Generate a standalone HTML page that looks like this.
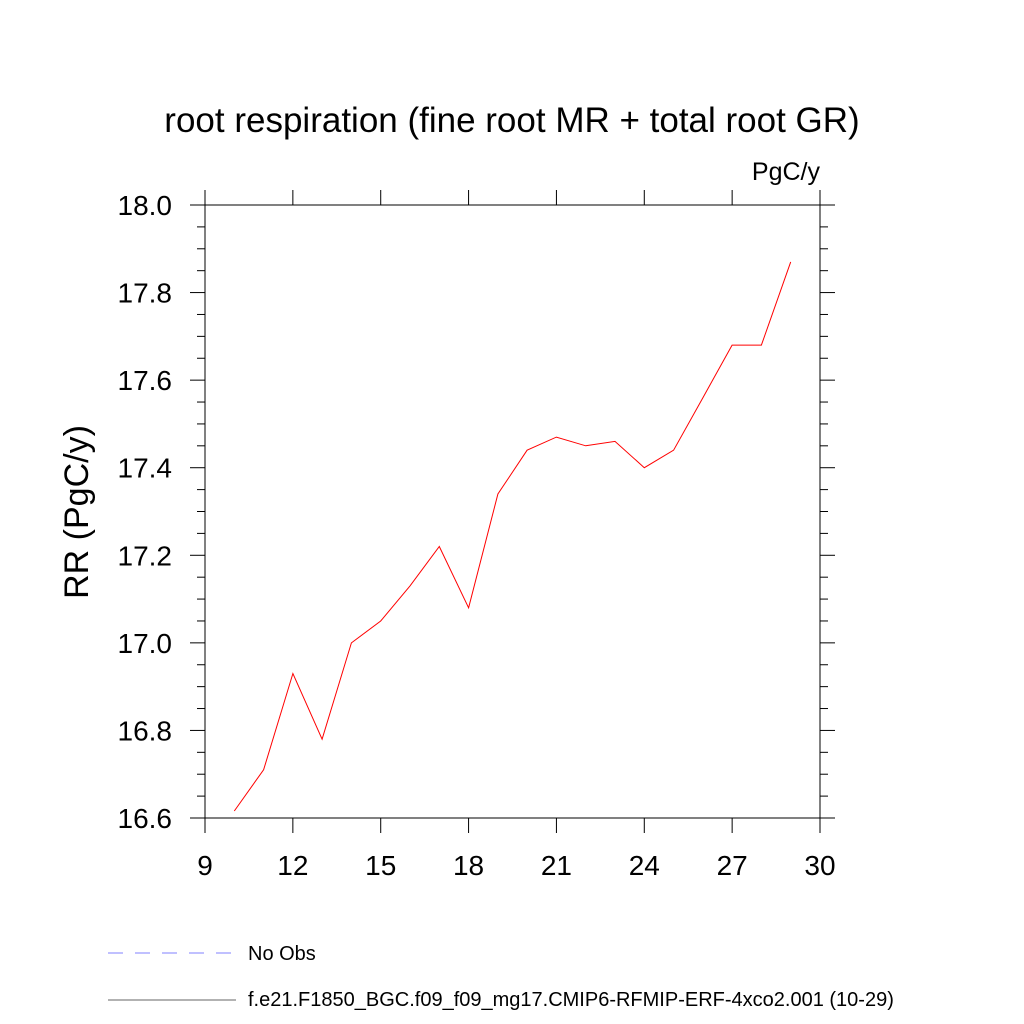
<!DOCTYPE html>
<html><head><meta charset="utf-8"><style>
html,body{margin:0;padding:0;background:#fff;}
svg{display:block;font-family:"Liberation Sans",sans-serif;}
</style></head><body>
<svg id="chart" width="1024" height="1024" viewBox="0 0 1024 1024" xmlns="http://www.w3.org/2000/svg">
<text x="512" y="132" font-size="35" text-anchor="middle">root respiration (fine root MR + total root GR)</text>
<text x="820" y="180" font-size="25" text-anchor="end">PgC/y</text>
<text transform="translate(88,512) rotate(-90)" font-size="34" text-anchor="middle">RR  (PgC/y)</text>
<g id="axes"></g>
<rect x="205" y="205" width="615" height="613" fill="none" stroke="#000" stroke-width="1"/>
<polyline id="series" fill="none" stroke="#ff0000" stroke-width="1"/>
<line x1="108" y1="953" x2="236" y2="953" stroke="#8080ff" stroke-width="1" stroke-dasharray="15,12"/>
<text x="248" y="960" font-size="20">No Obs</text>
<line x1="108" y1="1000" x2="236" y2="1000" stroke="#666" stroke-width="1"/>
<text x="248" y="1006" font-size="20">f.e21.F1850_BGC.f09_f09_mg17.CMIP6-RFMIP-ERF-4xco2.001 (10-29)</text>
</svg>
<script>
const years = [10,11,12,13,14,15,16,17,18,19,20,21,22,23,24,25,26,27,28,29];
const rrValues = [16.616,16.71,16.93,16.78,17.0,17.05,17.13,17.22,17.08,17.34,17.44,17.47,17.45,17.46,17.40,17.44,17.56,17.68,17.68,17.87];
const xTickLabels = [9,12,15,18,21,24,27,30];
const yTickLabels = ["16.6","16.8","17.0","17.2","17.4","17.6","17.8","18.0"];

const X0=205,X1=820,Y0=818,Y1=205,xMin=9,xMax=30,yMin=16.6,yMax=18.0;
function sx(v){return X0+(v-xMin)/(xMax-xMin)*(X1-X0);}
function sy(v){return Y0-(v-yMin)/(yMax-yMin)*(Y0-Y1);}
const NS="http://www.w3.org/2000/svg";
const g=document.getElementById('axes');
function line(x1,y1,x2,y2,name){
  const l=document.createElementNS(NS,'line');
  l.setAttribute('x1',x1);l.setAttribute('y1',y1);l.setAttribute('x2',x2);l.setAttribute('y2',y2);
  l.setAttribute('stroke','#000');l.setAttribute('stroke-width','1');
  
  
  g.appendChild(l);
}
function text(x,y,s,anchor,name){
  const t=document.createElementNS(NS,'text');
  t.setAttribute('x',x);t.setAttribute('y',y);t.setAttribute('font-size','28');t.setAttribute('text-anchor',anchor);
  t.textContent=s;
  
  
  g.appendChild(t);
}
xTickLabels.forEach(v=>{
  const x=sx(v);
  line(x,Y0,x,Y0+15,'x-tick');
  line(x,Y1,x,Y1-15,'x-tick-top');
  text(x,Y0+57,String(v),'middle','x-tick-label');
});
for(let i=0;i<=28;i++){
  const v=yMin+i*0.05;const major=(i%4===0);const L=major?15:8;const y=sy(v);
  line(X0,y,X0-L,y,'y-tick');
  line(X1,y,X1+L,y,'y-tick-right');
}
yTickLabels.forEach(s=>text(X0-33,sy(parseFloat(s))+10,s,'end','y-tick-label'));
const pts=years.map((yr,i)=>sx(yr).toFixed(1)+','+sy(rrValues[i]).toFixed(1)).join(' ');
document.getElementById('series').setAttribute('points',pts);
</script>
</body></html>
